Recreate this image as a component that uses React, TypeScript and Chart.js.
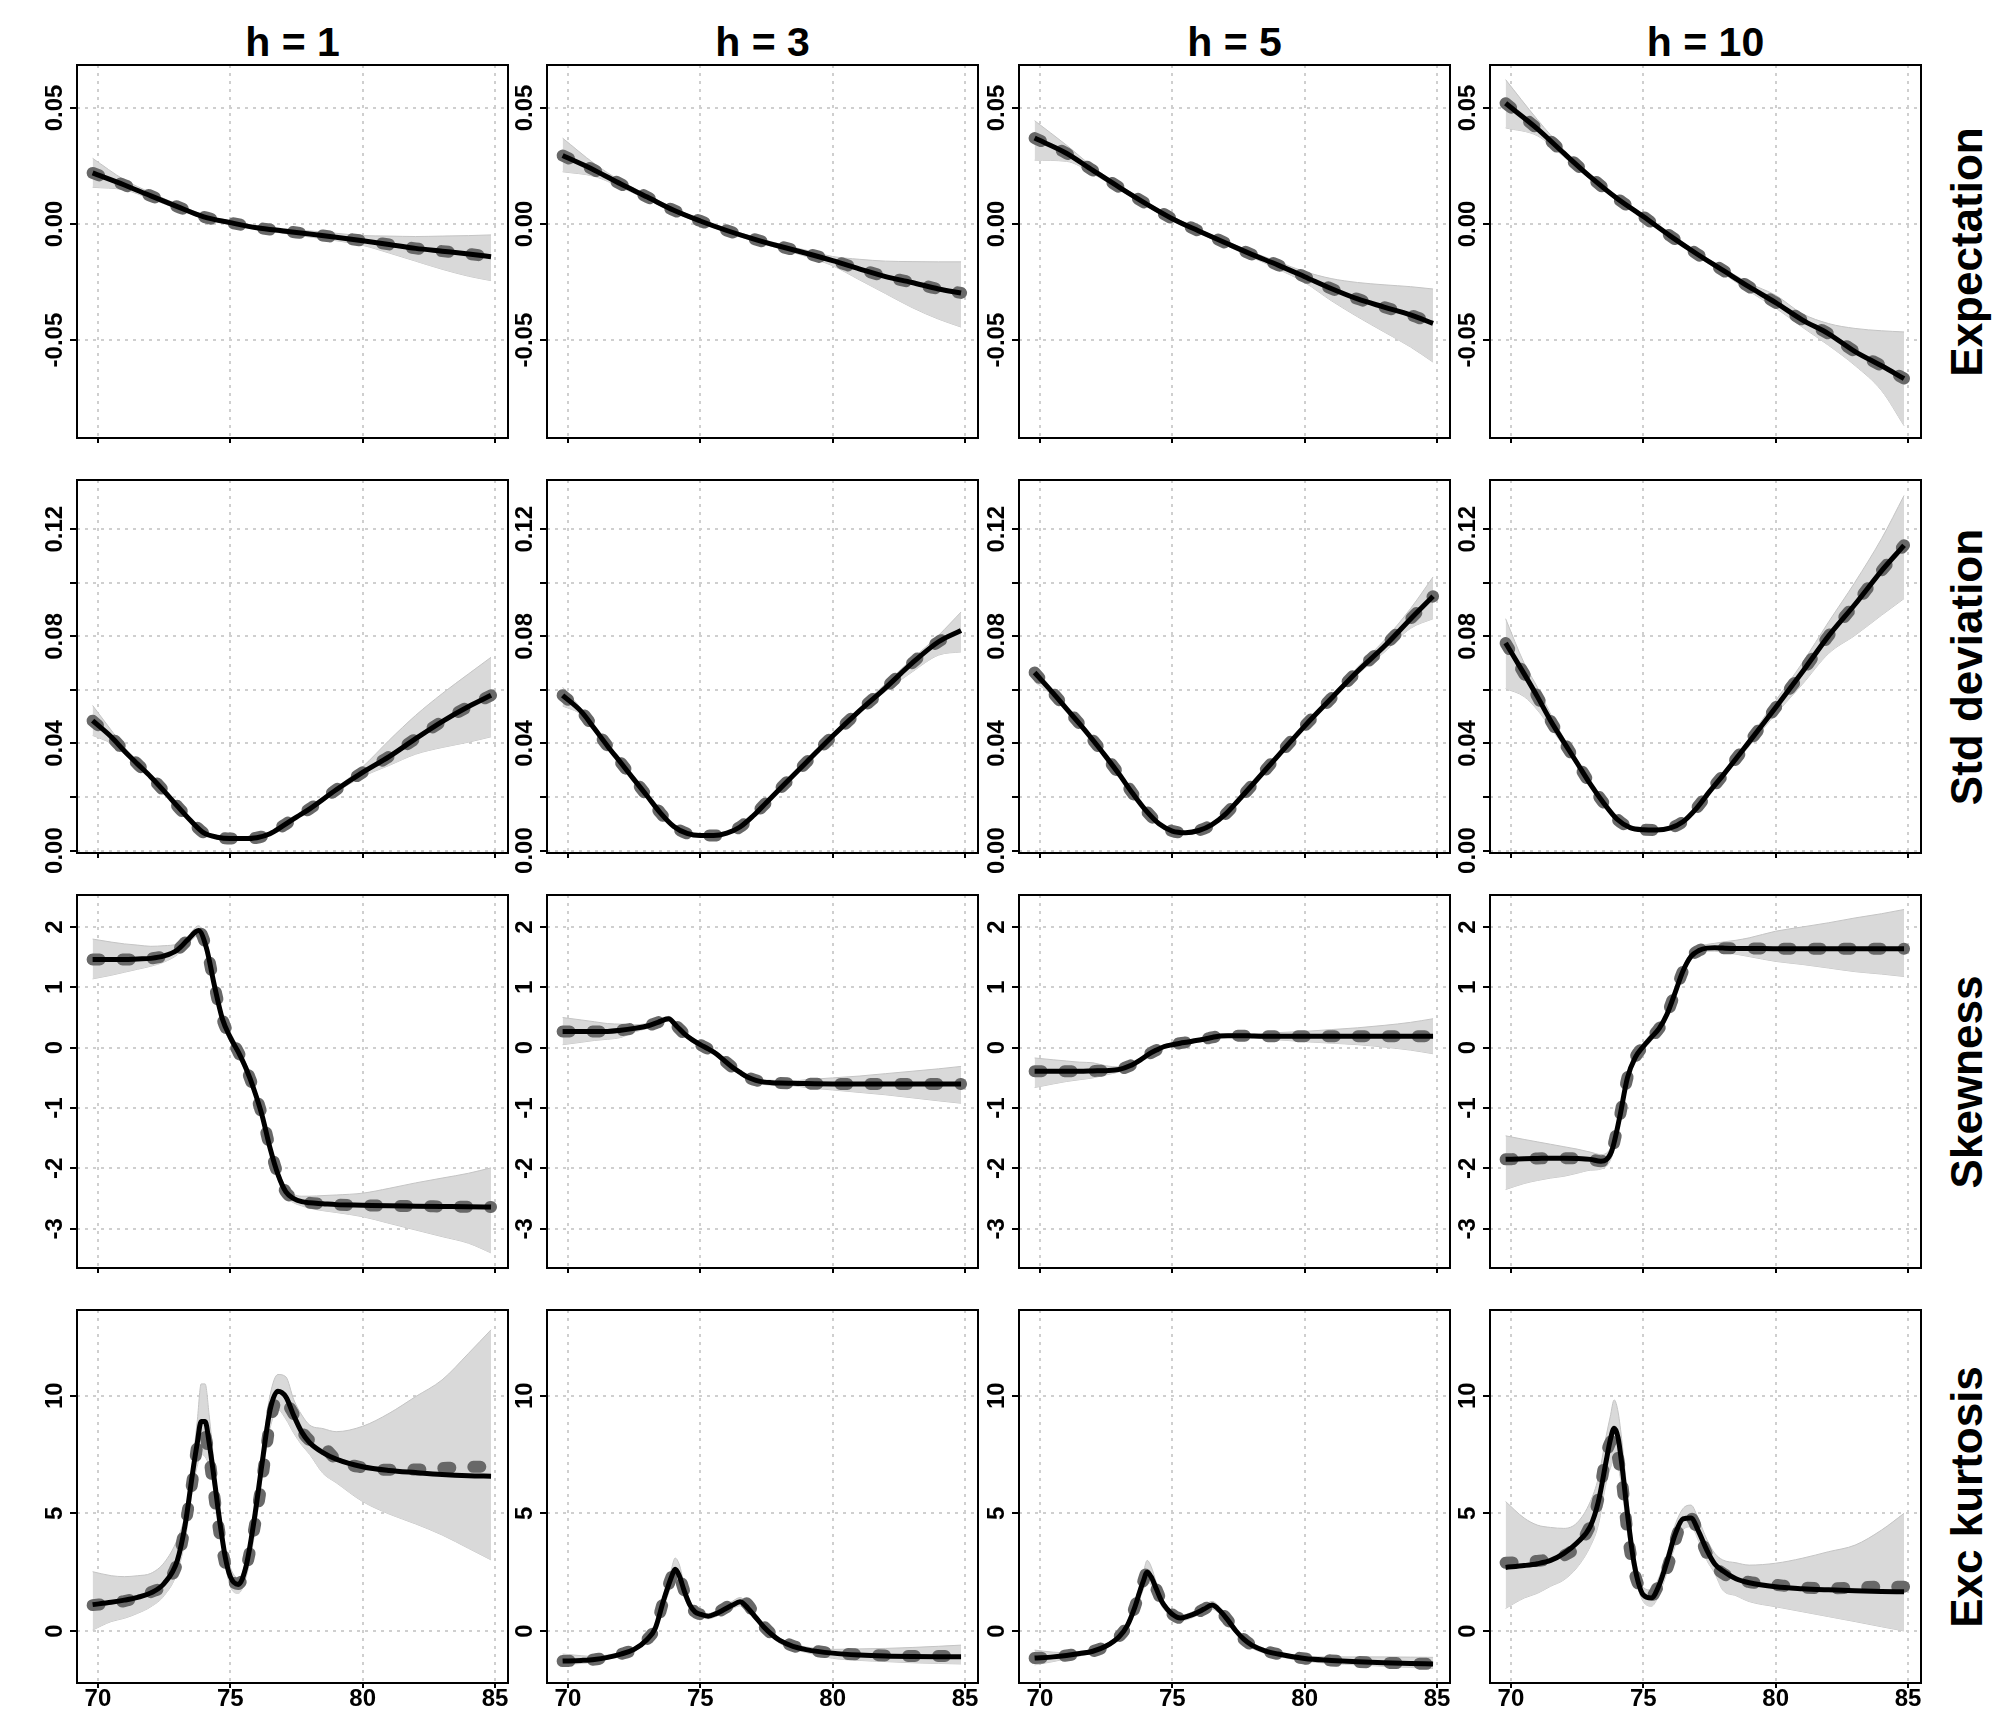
import { useEffect, useRef } from 'react'
import { Chart, registerables } from 'chart.js'

Chart.register(...registerables)

const FONT = '"Liberation Sans", Arial, sans-serif'
Chart.defaults.font.family = FONT

// panel titles
const HORIZONS = ['h = 1', 'h = 3', 'h = 5', 'h = 10']
const MEASURES = ['Expectation', 'Std deviation', 'Skewness', 'Exc kurtosis']

// x axis (shared by all panels)
const X_MIN = 69.21
const X_MAX = 85.49
const X_TICKS = [70, 75, 80, 85]

// ---- Expectation ----
const X_EXP = [69.8, 71, 72, 73, 74, 75, 76, 77, 78, 79, 80, 81, 82, 83, 84, 84.85]
const EXP_TICKS = [-0.05, 0, 0.05]
const EXP_LABELS = ['-0.05', '0.00', '0.05']
const EXP_H1_MEAN = [0.0220, 0.0168, 0.0121, 0.0075, 0.0031, 0.0006, -0.0016, -0.0030, -0.0043, -0.0057, -0.0072, -0.0088, -0.0105, -0.0117, -0.0129, -0.0141]
const EXP_H1_HI = [0.0283, 0.0190, 0.0135, 0.0085, 0.0040, 0.0014, -0.0008, -0.0020, -0.0030, -0.0040, -0.0050, -0.0052, -0.0054, -0.0052, -0.0050, -0.0047]
const EXP_H1_LO = [0.0158, 0.0147, 0.0108, 0.0066, 0.0023, -0.0002, -0.0024, -0.0040, -0.0056, -0.0072, -0.0092, -0.0125, -0.0160, -0.0195, -0.0225, -0.0244]
const EXP_H3_MEAN = [0.0295, 0.0232, 0.0172, 0.0116, 0.0059, 0.0013, -0.0028, -0.0064, -0.0096, -0.0126, -0.0158, -0.0193, -0.0227, -0.0252, -0.0280, -0.0297]
const EXP_H3_HI = [0.0370, 0.0260, 0.0185, 0.0126, 0.0068, 0.0021, -0.0020, -0.0055, -0.0086, -0.0113, -0.0140, -0.0152, -0.0160, -0.0162, -0.0163, -0.0163]
const EXP_H3_LO = [0.0225, 0.0205, 0.0158, 0.0106, 0.0050, 0.0005, -0.0036, -0.0073, -0.0106, -0.0140, -0.0180, -0.0240, -0.0300, -0.0360, -0.0410, -0.0444]
const EXP_H5_MEAN = [0.0370, 0.0305, 0.0231, 0.0158, 0.0088, 0.0023, -0.0030, -0.0081, -0.0131, -0.0177, -0.0227, -0.0278, -0.0323, -0.0358, -0.0392, -0.0428]
const EXP_H5_HI = [0.0445, 0.0340, 0.0246, 0.0168, 0.0097, 0.0032, -0.0022, -0.0072, -0.0120, -0.0163, -0.0205, -0.0235, -0.0252, -0.0262, -0.0270, -0.0280]
const EXP_H5_LO = [0.0275, 0.0270, 0.0216, 0.0148, 0.0079, 0.0014, -0.0039, -0.0091, -0.0143, -0.0195, -0.0252, -0.0330, -0.0400, -0.0465, -0.0530, -0.0595]
const EXP_H10_MEAN = [0.0520, 0.0410, 0.0305, 0.0203, 0.0111, 0.0032, -0.0050, -0.0127, -0.0199, -0.0271, -0.0339, -0.0413, -0.0473, -0.0550, -0.0611, -0.0666]
const EXP_H10_HI = [0.0622, 0.0450, 0.0320, 0.0212, 0.0120, 0.0040, -0.0043, -0.0118, -0.0188, -0.0255, -0.0307, -0.0386, -0.0429, -0.0450, -0.0460, -0.0465]
const EXP_H10_LO = [0.0414, 0.0380, 0.0290, 0.0192, 0.0102, 0.0024, -0.0058, -0.0137, -0.0211, -0.0290, -0.0362, -0.0444, -0.0523, -0.0610, -0.0718, -0.0869]

// ---- Std deviation ----
const X_STD = [69.8, 70.5, 71, 71.5, 72, 72.5, 73, 73.5, 74, 74.5, 75, 75.5, 76, 76.5, 77, 77.5, 78, 79, 80, 81, 82, 83, 84, 84.85]
const STD_TICKS = [0, 0.02, 0.04, 0.06, 0.08, 0.1, 0.12]
const STD_LABELS = ['0.00', '', '0.04', '', '0.08', '', '0.12']
const STD_H1_MEAN = [0.0485, 0.0425, 0.0372, 0.0323, 0.0275, 0.0222, 0.0166, 0.0112, 0.0066, 0.0050, 0.0045, 0.0045, 0.0048, 0.0063, 0.0093, 0.0125, 0.0156, 0.0227, 0.0292, 0.0351, 0.0418, 0.0482, 0.0538, 0.0580]
const STD_H1_HI = [0.0542, 0.0450, 0.0385, 0.0330, 0.0280, 0.0226, 0.0170, 0.0116, 0.0070, 0.0054, 0.0049, 0.0049, 0.0052, 0.0067, 0.0097, 0.0130, 0.0162, 0.0235, 0.0313, 0.0412, 0.0505, 0.0586, 0.0660, 0.0722]
const STD_H1_LO = [0.0430, 0.0400, 0.0360, 0.0316, 0.0270, 0.0218, 0.0162, 0.0108, 0.0062, 0.0046, 0.0041, 0.0041, 0.0044, 0.0059, 0.0089, 0.0120, 0.0150, 0.0218, 0.0276, 0.0318, 0.0360, 0.0385, 0.0405, 0.0425]
const STD_H3_MEAN = [0.0580, 0.0520, 0.0456, 0.0390, 0.0328, 0.0265, 0.0203, 0.0140, 0.0090, 0.0064, 0.0056, 0.0056, 0.0065, 0.0088, 0.0130, 0.0180, 0.0230, 0.0329, 0.0428, 0.0521, 0.0608, 0.0700, 0.0780, 0.0822]
const STD_H3_HI = [0.0610, 0.0530, 0.0462, 0.0395, 0.0333, 0.0270, 0.0208, 0.0145, 0.0095, 0.0068, 0.0060, 0.0060, 0.0069, 0.0093, 0.0135, 0.0185, 0.0236, 0.0336, 0.0436, 0.0530, 0.0624, 0.0715, 0.0804, 0.0891]
const STD_H3_LO = [0.0540, 0.0508, 0.0450, 0.0385, 0.0323, 0.0260, 0.0198, 0.0135, 0.0085, 0.0060, 0.0052, 0.0052, 0.0061, 0.0083, 0.0125, 0.0175, 0.0224, 0.0322, 0.0420, 0.0512, 0.0595, 0.0667, 0.0730, 0.0742]
const STD_H5_MEAN = [0.0665, 0.0588, 0.0530, 0.0473, 0.0413, 0.0350, 0.0284, 0.0214, 0.0150, 0.0100, 0.0073, 0.0067, 0.0075, 0.0097, 0.0135, 0.0188, 0.0243, 0.0355, 0.0465, 0.0568, 0.0670, 0.0762, 0.0865, 0.0950]
const STD_H5_HI = [0.0685, 0.0598, 0.0536, 0.0478, 0.0418, 0.0355, 0.0289, 0.0219, 0.0155, 0.0104, 0.0077, 0.0071, 0.0079, 0.0102, 0.0140, 0.0193, 0.0249, 0.0362, 0.0472, 0.0575, 0.0685, 0.0785, 0.0904, 0.1022]
const STD_H5_LO = [0.0630, 0.0578, 0.0524, 0.0468, 0.0408, 0.0345, 0.0279, 0.0209, 0.0145, 0.0096, 0.0069, 0.0063, 0.0071, 0.0092, 0.0130, 0.0183, 0.0237, 0.0348, 0.0458, 0.0562, 0.0658, 0.0740, 0.0830, 0.0866]
const STD_H10_MEAN = [0.0775, 0.0660, 0.0575, 0.0485, 0.0405, 0.0327, 0.0248, 0.0178, 0.0118, 0.0086, 0.0078, 0.0077, 0.0084, 0.0108, 0.0157, 0.0220, 0.0280, 0.0406, 0.0534, 0.0666, 0.0802, 0.0920, 0.1045, 0.1140]
const STD_H10_HI = [0.0866, 0.0700, 0.0610, 0.0510, 0.0420, 0.0336, 0.0255, 0.0184, 0.0123, 0.0091, 0.0083, 0.0082, 0.0089, 0.0114, 0.0163, 0.0227, 0.0290, 0.0420, 0.0560, 0.0700, 0.0854, 0.1003, 0.1165, 0.1326]
const STD_H10_LO = [0.0605, 0.0575, 0.0525, 0.0458, 0.0390, 0.0318, 0.0241, 0.0172, 0.0113, 0.0081, 0.0073, 0.0072, 0.0079, 0.0102, 0.0151, 0.0213, 0.0270, 0.0390, 0.0510, 0.0620, 0.0736, 0.0804, 0.0879, 0.0941]

// ---- Skewness ----
const X_SKEW = [69.8, 70.5, 71, 71.5, 72, 72.5, 73, 73.4, 73.8, 74.1, 74.4, 74.7, 75, 75.3, 75.6, 75.9, 76.2, 76.5, 76.8, 77.1, 77.4, 77.7, 78, 78.5, 79, 80, 81, 82, 83, 84, 84.85]
const SKEW_TICKS = [-3, -2, -1, 0, 1, 2]
const SKEW_LABELS = ['-3', '-2', '-1', '0', '1', '2']
const SKEW_H1_MEAN = [1.46, 1.46, 1.46, 1.47, 1.48, 1.52, 1.62, 1.79, 1.94, 1.65, 1.03, 0.48, 0.17, -0.07, -0.35, -0.70, -1.12, -1.66, -2.10, -2.39, -2.50, -2.55, -2.57, -2.585, -2.60, -2.61, -2.62, -2.625, -2.63, -2.635, -2.64]
const SKEW_H1_HI = [1.80, 1.75, 1.72, 1.70, 1.68, 1.69, 1.72, 1.85, 2.02, 1.75, 1.12, 0.57, 0.25, 0.01, -0.27, -0.62, -1.04, -1.58, -2.02, -2.31, -2.43, -2.46, -2.46, -2.45, -2.44, -2.41, -2.33, -2.24, -2.16, -2.08, -1.99]
const SKEW_H1_LO = [1.14, 1.20, 1.25, 1.30, 1.35, 1.42, 1.54, 1.72, 1.86, 1.55, 0.94, 0.39, 0.09, -0.15, -0.43, -0.78, -1.20, -1.74, -2.18, -2.47, -2.57, -2.62, -2.66, -2.70, -2.73, -2.80, -2.91, -3.02, -3.13, -3.24, -3.40]
const SKEW_H3_MEAN = [0.27, 0.27, 0.27, 0.27, 0.29, 0.32, 0.36, 0.42, 0.48, 0.36, 0.23, 0.13, 0.05, -0.02, -0.10, -0.21, -0.32, -0.41, -0.49, -0.54, -0.57, -0.58, -0.585, -0.59, -0.595, -0.60, -0.60, -0.60, -0.60, -0.60, -0.60]
const SKEW_H3_HI = [0.50, 0.46, 0.43, 0.40, 0.39, 0.38, 0.40, 0.45, 0.52, 0.40, 0.27, 0.17, 0.09, 0.02, -0.06, -0.17, -0.28, -0.37, -0.45, -0.50, -0.53, -0.54, -0.545, -0.55, -0.53, -0.50, -0.47, -0.43, -0.39, -0.35, -0.31]
const SKEW_H3_LO = [0.05, 0.09, 0.12, 0.14, 0.17, 0.26, 0.32, 0.39, 0.44, 0.32, 0.19, 0.09, 0.01, -0.06, -0.14, -0.25, -0.36, -0.45, -0.53, -0.58, -0.61, -0.62, -0.625, -0.63, -0.66, -0.70, -0.74, -0.78, -0.83, -0.88, -0.92]
const SKEW_H5_MEAN = [-0.39, -0.39, -0.39, -0.39, -0.385, -0.38, -0.36, -0.30, -0.20, -0.11, -0.04, 0.02, 0.05, 0.075, 0.095, 0.12, 0.14, 0.17, 0.195, 0.20, 0.20, 0.20, 0.195, 0.19, 0.19, 0.19, 0.19, 0.19, 0.19, 0.19, 0.19]
const SKEW_H5_HI = [-0.17, -0.20, -0.22, -0.24, -0.25, -0.30, -0.32, -0.27, -0.17, -0.08, -0.01, 0.05, 0.08, 0.105, 0.125, 0.15, 0.17, 0.20, 0.225, 0.23, 0.23, 0.23, 0.225, 0.23, 0.25, 0.27, 0.30, 0.33, 0.37, 0.42, 0.48]
const SKEW_H5_LO = [-0.66, -0.60, -0.56, -0.53, -0.50, -0.45, -0.40, -0.33, -0.23, -0.14, -0.07, -0.01, 0.02, 0.045, 0.065, 0.09, 0.11, 0.14, 0.165, 0.17, 0.17, 0.17, 0.165, 0.15, 0.13, 0.10, 0.075, 0.05, 0.01, -0.04, -0.10]
const SKEW_H10_MEAN = [-1.85, -1.84, -1.835, -1.83, -1.83, -1.835, -1.85, -1.88, -1.72, -1.17, -0.50, -0.16, 0.02, 0.17, 0.32, 0.56, 0.91, 1.27, 1.51, 1.61, 1.65, 1.655, 1.65, 1.645, 1.645, 1.64, 1.64, 1.64, 1.64, 1.64, 1.64]
const SKEW_H10_HI = [-1.46, -1.52, -1.56, -1.60, -1.64, -1.68, -1.73, -1.77, -1.62, -1.07, -0.42, -0.09, 0.08, 0.23, 0.38, 0.62, 0.97, 1.33, 1.57, 1.67, 1.71, 1.73, 1.75, 1.78, 1.82, 1.93, 2.00, 2.07, 2.15, 2.22, 2.29]
const SKEW_H10_LO = [-2.35, -2.25, -2.20, -2.16, -2.13, -2.08, -2.03, -2.01, -1.82, -1.27, -0.58, -0.23, -0.04, 0.11, 0.26, 0.50, 0.85, 1.21, 1.45, 1.55, 1.60, 1.60, 1.58, 1.55, 1.51, 1.43, 1.38, 1.32, 1.26, 1.22, 1.18]

// ---- Excess kurtosis ----
const X_KURT = [69.8, 70.5, 71, 71.5, 72, 72.5, 73, 73.3, 73.6, 73.75, 73.9, 74.05, 74.2, 74.4, 74.6, 74.8, 75, 75.3, 75.6, 75.9, 76.2, 76.5, 76.8, 77.1, 77.4, 77.7, 78, 78.5, 79, 80, 81, 82, 83, 84, 84.85]
const KURT_TICKS = [0, 5, 10]
const KURT_LABELS = ['0', '5', '10']
const KURT_H1_MEAN = [1.12, 1.22, 1.31, 1.43, 1.62, 2.02, 3.0, 4.55, 6.9, 7.97, 8.9, 8.9, 8.01, 6.4, 4.67, 3.2, 2.31, 1.98, 2.77, 4.7, 7.12, 9.38, 10.19, 9.95, 9.15, 8.45, 8.0, 7.58, 7.3, 6.98, 6.82, 6.73, 6.65, 6.60, 6.58]
const KURT_H1_REF = [1.10, 1.18, 1.27, 1.42, 1.65, 1.95, 2.9, 4.5, 6.6, 7.85, 8.4, 8.3, 7.4, 5.7, 4.1, 2.9, 2.25, 2.0, 2.7, 4.3, 6.4, 8.8, 9.85, 9.7, 9.2, 8.5, 8.1, 7.85, 7.3, 6.95, 6.85, 6.86, 6.92, 6.97, 6.98]
const KURT_H1_HI = [2.52, 2.35, 2.31, 2.35, 2.45, 2.9, 3.9, 5.0, 7.4, 8.9, 10.5, 10.5, 9.2, 7.0, 5.1, 3.6, 2.7, 2.25, 3.0, 4.9, 7.6, 10.0, 10.9, 10.8, 9.82, 9.18, 8.75, 8.6, 8.47, 8.7, 9.25, 9.96, 10.67, 11.8, 12.8]
const KURT_H1_LO = [0.04, 0.4, 0.54, 0.75, 1.03, 1.5, 2.5, 3.9, 6.2, 7.0, 7.5, 7.4, 7.0, 5.9, 4.3, 2.9, 1.9, 1.6, 2.3, 4.0, 6.5, 8.6, 9.4, 9.0, 8.4, 7.9, 7.5, 6.7, 6.3, 5.5, 4.97, 4.55, 4.08, 3.51, 3.02]
const KURT_H3_MEAN = [-1.28, -1.25, -1.21, -1.12, -0.98, -0.78, -0.35, 0.12, 1.25, 1.78, 2.26, 2.62, 2.37, 1.68, 1.12, 0.81, 0.71, 0.63, 0.74, 0.91, 1.09, 1.24, 0.97, 0.57, 0.17, -0.15, -0.40, -0.65, -0.79, -0.94, -1.02, -1.065, -1.085, -1.09, -1.09]
const KURT_H3_REF = [-1.28, -1.25, -1.21, -1.12, -0.98, -0.78, -0.35, 0.12, 1.25, 1.78, 2.26, 2.58, 2.35, 1.68, 1.12, 0.81, 0.71, 0.63, 0.76, 0.95, 1.15, 1.35, 1.12, 0.62, 0.2, -0.13, -0.38, -0.63, -0.78, -0.93, -1.0, -1.04, -1.06, -1.06, -1.06]
const KURT_H3_HI = [-0.98, -1.05, -1.08, -1.02, -0.90, -0.70, -0.25, 0.3, 1.5, 2.1, 2.6, 3.1, 2.85, 1.95, 1.3, 0.95, 0.82, 0.74, 0.85, 1.04, 1.25, 1.42, 1.17, 0.72, 0.3, -0.04, -0.3, -0.55, -0.68, -0.78, -0.76, -0.74, -0.70, -0.65, -0.60]
const KURT_H3_LO = [-1.44, -1.38, -1.32, -1.20, -1.05, -0.86, -0.45, -0.05, 1.0, 1.45, 1.9, 2.2, 2.0, 1.4, 0.95, 0.68, 0.6, 0.52, 0.62, 0.79, 0.95, 1.07, 0.8, 0.44, 0.05, -0.27, -0.52, -0.77, -0.91, -1.16, -1.25, -1.30, -1.35, -1.38, -1.40]
const KURT_H5_MEAN = [-1.15, -1.10, -1.04, -0.96, -0.86, -0.64, -0.23, 0.23, 1.06, 1.6, 2.1, 2.5, 2.3, 1.78, 1.26, 0.94, 0.71, 0.55, 0.63, 0.76, 0.93, 1.1, 0.86, 0.46, 0.01, -0.35, -0.6, -0.84, -0.98, -1.17, -1.25, -1.31, -1.35, -1.38, -1.40]
const KURT_H5_HI = [-0.81, -0.90, -0.92, -0.87, -0.77, -0.55, -0.13, 0.38, 1.28, 1.9, 2.45, 3.0, 2.75, 2.05, 1.45, 1.08, 0.84, 0.66, 0.74, 0.88, 1.06, 1.26, 1.0, 0.6, 0.12, -0.25, -0.5, -0.75, -0.9, -1.08, -1.1, -1.1, -1.1, -1.11, -1.12]
const KURT_H5_LO = [-1.44, -1.30, -1.18, -1.06, -0.94, -0.74, -0.33, 0.08, 0.86, 1.3, 1.75, 2.1, 1.95, 1.5, 1.06, 0.78, 0.58, 0.44, 0.5, 0.64, 0.8, 0.93, 0.72, 0.32, -0.12, -0.46, -0.72, -0.95, -1.08, -1.28, -1.38, -1.44, -1.50, -1.55, -1.59]
const KURT_H10_MEAN = [2.7, 2.78, 2.86, 3.0, 3.3, 3.75, 4.45, 5.48, 7.23, 8.1, 8.61, 8.2, 6.98, 5.0, 3.23, 2.11, 1.53, 1.4, 1.95, 2.96, 4.09, 4.76, 4.8, 4.2, 3.44, 2.85, 2.56, 2.22, 2.05, 1.88, 1.8, 1.75, 1.71, 1.68, 1.67]
const KURT_H10_REF = [2.9, 2.94, 2.98, 3.05, 3.2, 3.6, 4.5, 5.6, 7.5, 8.0, 8.15, 7.33, 6.3, 4.2, 2.8, 2.0, 1.65, 1.47, 2.0, 2.65, 3.8, 4.7, 4.8, 4.1, 3.3, 2.75, 2.45, 2.2, 2.08, 1.96, 1.85, 1.81, 1.85, 1.88, 1.88]
const KURT_H10_HI = [5.5, 4.8, 4.5, 4.4, 4.36, 4.6, 5.5, 6.5, 8.3, 9.1, 9.82, 9.3, 8.0, 5.8, 3.8, 2.5, 1.85, 1.74, 2.3, 3.3, 4.5, 5.2, 5.35, 4.7, 3.9, 3.3, 3.02, 2.9, 2.8, 2.88, 3.09, 3.37, 3.65, 4.29, 5.0]
const KURT_H10_LO = [0.96, 1.4, 1.6, 1.9, 2.17, 2.7, 3.6, 4.5, 6.3, 6.9, 7.27, 7.0, 6.0, 4.2, 2.7, 1.8, 1.25, 1.05, 1.55, 2.5, 3.6, 4.3, 4.43, 3.8, 3.0, 2.45, 1.74, 1.5, 1.25, 1.03, 0.82, 0.61, 0.4, 0.18, 0.0]

type Band = { mean: number[]; ref: number[]; lo: number[]; hi: number[] }
type Row = { x: number[]; min: number; max: number; ticks: number[]; labels: string[]; panels: Band[] }

const ROWS: Row[] = [
  {
    x: X_EXP, min: -0.0922, max: 0.0685, ticks: EXP_TICKS, labels: EXP_LABELS,
    panels: [
      { mean: EXP_H1_MEAN, ref: EXP_H1_MEAN, lo: EXP_H1_LO, hi: EXP_H1_HI },
      { mean: EXP_H3_MEAN, ref: EXP_H3_MEAN, lo: EXP_H3_LO, hi: EXP_H3_HI },
      { mean: EXP_H5_MEAN, ref: EXP_H5_MEAN, lo: EXP_H5_LO, hi: EXP_H5_HI },
      { mean: EXP_H10_MEAN, ref: EXP_H10_MEAN, lo: EXP_H10_LO, hi: EXP_H10_HI },
    ],
  },
  {
    x: X_STD, min: -0.0009, max: 0.1384, ticks: STD_TICKS, labels: STD_LABELS,
    panels: [
      { mean: STD_H1_MEAN, ref: STD_H1_MEAN, lo: STD_H1_LO, hi: STD_H1_HI },
      { mean: STD_H3_MEAN, ref: STD_H3_MEAN, lo: STD_H3_LO, hi: STD_H3_HI },
      { mean: STD_H5_MEAN, ref: STD_H5_MEAN, lo: STD_H5_LO, hi: STD_H5_HI },
      { mean: STD_H10_MEAN, ref: STD_H10_MEAN, lo: STD_H10_LO, hi: STD_H10_HI },
    ],
  },
  {
    x: X_SKEW, min: -3.65, max: 2.53, ticks: SKEW_TICKS, labels: SKEW_LABELS,
    panels: [
      { mean: SKEW_H1_MEAN, ref: SKEW_H1_MEAN, lo: SKEW_H1_LO, hi: SKEW_H1_HI },
      { mean: SKEW_H3_MEAN, ref: SKEW_H3_MEAN, lo: SKEW_H3_LO, hi: SKEW_H3_HI },
      { mean: SKEW_H5_MEAN, ref: SKEW_H5_MEAN, lo: SKEW_H5_LO, hi: SKEW_H5_HI },
      { mean: SKEW_H10_MEAN, ref: SKEW_H10_MEAN, lo: SKEW_H10_LO, hi: SKEW_H10_HI },
    ],
  },
  {
    x: X_KURT, min: -2.21, max: 13.64, ticks: KURT_TICKS, labels: KURT_LABELS,
    panels: [
      { mean: KURT_H1_MEAN, ref: KURT_H1_REF, lo: KURT_H1_LO, hi: KURT_H1_HI },
      { mean: KURT_H3_MEAN, ref: KURT_H3_REF, lo: KURT_H3_LO, hi: KURT_H3_HI },
      { mean: KURT_H5_MEAN, ref: KURT_H5_MEAN, lo: KURT_H5_LO, hi: KURT_H5_HI },
      { mean: KURT_H10_MEAN, ref: KURT_H10_REF, lo: KURT_H10_LO, hi: KURT_H10_HI },
    ],
  },
]

// layout (px)
const COL_LEFT = [77, 547, 1019, 1490]
const ROW_TOP = [65, 480, 895, 1310]
const PANEL_W = 431
const PANEL_H = 373
const AXIS_W = 70
const PAD = 30
const BOTTOM_AXIS = 52

const GRID = '#cfcfcf'

// frame round the plot area, and y labels turned to run along the axis
const framePlugin = {
  id: 'frame',
  afterDraw(chart: any) {
    const { ctx, chartArea: a } = chart
    const y = chart.scales.y
    ctx.save()
    ctx.strokeStyle = '#000'
    ctx.lineWidth = 2
    ctx.strokeRect(a.left, a.top, a.width, a.height)
    ctx.fillStyle = '#000'
    ctx.font = `bold 24px ${FONT}`
    ctx.textAlign = 'center'
    ctx.textBaseline = 'alphabetic'
    y.ticks.forEach((t: any) => {
      if (!t.label) return
      ctx.save()
      ctx.translate(a.left - 15, y.getPixelForValue(t.value))
      ctx.rotate(-Math.PI / 2)
      ctx.fillText(String(t.label), 0, 0)
      ctx.restore()
    })
    ctx.restore()
  },
}

function Panel({ row, col }: { row: number; col: number }) {
  const canvasRef = useRef<HTMLCanvasElement>(null)
  const isBottom = row === ROWS.length - 1
  const w = AXIS_W + PANEL_W + PAD
  const h = PAD + PANEL_H + (isBottom ? BOTTOM_AXIS : PAD)

  useEffect(() => {
    if (!canvasRef.current) return
    const r = ROWS[row]
    const p = r.panels[col]
    const pts = (ys: number[]) => r.x.map((x, i) => ({ x, y: ys[i] }))
    const common = { pointRadius: 0, cubicInterpolationMode: 'monotone' as const }

    const chart = new Chart(canvasRef.current, {
      type: 'line',
      data: {
        datasets: [
          { ...common, data: pts(p.mean), borderColor: '#000000', borderWidth: 5, borderJoinStyle: 'round', fill: false },
          { ...common, data: pts(p.ref), borderColor: '#686868', borderWidth: 12, borderDash: [7, 23], borderCapStyle: 'round', fill: false },
          { ...common, data: pts(p.hi), borderColor: '#c4c4c4', borderWidth: 1, backgroundColor: '#d9d9d9', fill: '+1' },
          { ...common, data: pts(p.lo), borderColor: '#c4c4c4', borderWidth: 1, fill: false },
        ],
      },
      options: {
        animation: false,
        responsive: false,
        events: [],
        layout: { padding: { top: PAD, right: PAD, left: 0, bottom: 0 } },
        plugins: { legend: { display: false }, tooltip: { enabled: false } },
        scales: {
          x: {
            type: 'linear',
            min: X_MIN,
            max: X_MAX,
            afterBuildTicks: (s: any) => { s.ticks = X_TICKS.map((value) => ({ value })) },
            afterFit: (s: any) => { s.height = isBottom ? BOTTOM_AXIS : PAD },
            grid: { color: GRID, lineWidth: 2, tickLength: 5, tickColor: '#000', tickWidth: 2 },
            border: { display: false, dash: [3, 5] },
            ticks: {
              display: isBottom,
              autoSkip: false,
              maxRotation: 0,
              padding: -3,
              color: '#000',
              font: { family: FONT, size: 24, weight: 'bold' },
              callback: (v: any) => String(v),
            },
          },
          y: {
            type: 'linear',
            min: r.min,
            max: r.max,
            afterBuildTicks: (s: any) => { s.ticks = r.ticks.map((value) => ({ value })) },
            afterFit: (s: any) => { s.width = AXIS_W },
            grid: { color: GRID, lineWidth: 2, tickLength: 7, tickColor: '#000', tickWidth: 2 },
            border: { display: false, dash: [3, 5] },
            ticks: { display: false, callback: (_v: any, i: number) => r.labels[i] },
          },
        },
      },
      plugins: [framePlugin],
    })

    return () => chart.destroy()
  }, [row, col])

  return (
    <canvas
      ref={canvasRef}
      width={w}
      height={h}
      style={{ position: 'absolute', left: COL_LEFT[col] - AXIS_W, top: ROW_TOP[row] - PAD, width: w, height: h }}
    />
  )
}

export default function App() {
  const cells = []
  for (let r = 0; r < ROWS.length; r++) {
    for (let c = 0; c < HORIZONS.length; c++) cells.push(<Panel key={`${r}-${c}`} row={r} col={c} />)
  }

  return (
    <div style={{ position: 'absolute', left: 0, top: 0, width: 2000, height: 1735, background: '#fff', overflow: 'hidden', fontFamily: FONT }}>
      {HORIZONS.map((t, c) => (
        <div
          key={t}
          style={{ position: 'absolute', left: COL_LEFT[c], top: 22, width: PANEL_W, textAlign: 'center', fontSize: 41, lineHeight: '41px', fontWeight: 'bold', color: '#000' }}
        >
          {t}
        </div>
      ))}
      {MEASURES.map((m, r) => (
        <div
          key={m}
          style={{
            position: 'absolute',
            left: 1966 - PANEL_H / 2,
            top: ROW_TOP[r] + PANEL_H / 2 - 22,
            width: PANEL_H,
            height: 44,
            lineHeight: '44px',
            textAlign: 'center',
            fontSize: 44,
            fontWeight: 'bold',
            whiteSpace: 'nowrap',
            transform: 'rotate(-90deg)',
            color: '#000',
          }}
        >
          {m}
        </div>
      ))}
      {cells}
    </div>
  )
}
